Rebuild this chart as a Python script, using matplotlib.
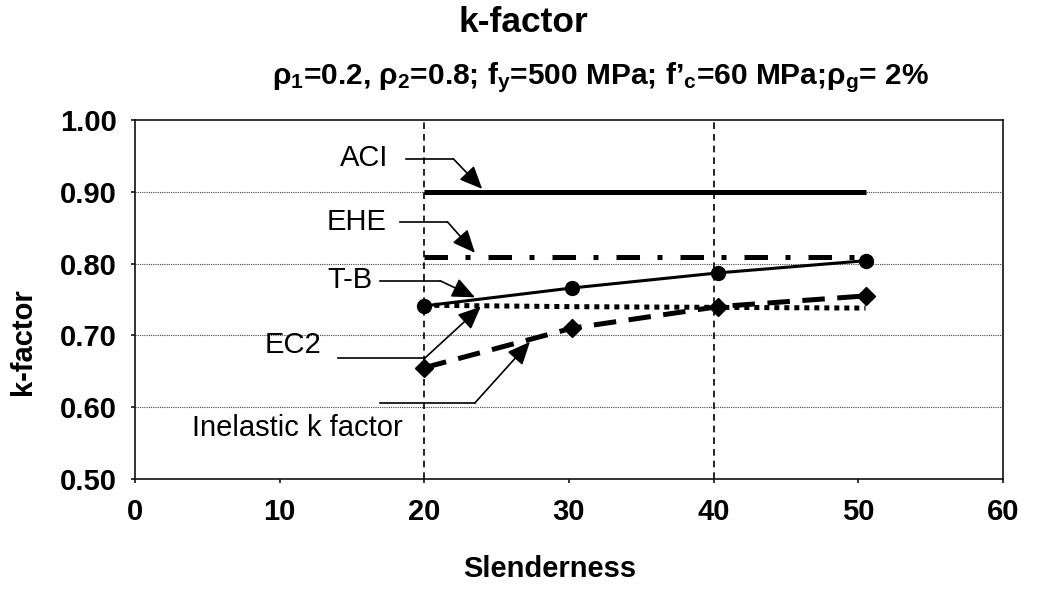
import matplotlib
matplotlib.use('Agg')
import matplotlib.pyplot as plt

plt.rcParams['font.family'] = ['Liberation Sans', 'DejaVu Sans']
plt.rcParams['mathtext.fontset'] = 'custom'
plt.rcParams['mathtext.rm'] = 'Liberation Sans:bold'
plt.rcParams['mathtext.it'] = 'Liberation Sans:bold'
plt.rcParams['mathtext.bf'] = 'Liberation Sans:bold'

# data
slenderness = [20, 30.2, 40.3, 50.5]
aci = [0.90, 0.90, 0.90, 0.90]
ehe = [0.809, 0.809, 0.809, 0.809]
tb = [0.741, 0.766, 0.787, 0.804]
ec2 = [0.655, 0.710, 0.740, 0.755]
inelastic = [0.742, 0.740, 0.739, 0.738]

x_ticks = [0, 10, 20, 30, 40, 50, 60]
y_ticks = [0.50, 0.60, 0.70, 0.80, 0.90, 1.00]
ref_lines = [20, 40]

fig = plt.figure(figsize=(10.37, 5.89), dpi=100)
ax = fig.add_axes([0.1302, 0.1868, 0.8370, 0.6095])

ax.set_xlim(0, 60)
ax.set_ylim(0.5, 1.0)

# horizontal grid
for y in y_ticks[1:-1]:
    ax.axhline(y, color='#444444', lw=0.8, ls=(0, (1, 1)), zorder=1)

# vertical dashed reference lines
for xv in ref_lines:
    ax.axvline(xv, color='k', lw=1.2, ls=(0, (4, 3)), zorder=2)

ax.plot(slenderness, aci, color='k', lw=3.6, solid_capstyle='butt', zorder=3)
ax.plot(slenderness, ehe, color='k', lw=3.6, ls=(0, (4.7, 3.5, 1, 3.6)), zorder=3)
ax.plot(slenderness, inelastic, color='k', lw=3.6, ls=(0, (1, 1)), zorder=3)
ax.plot(slenderness, tb, color='k', lw=2.2, marker='o', markersize=10, zorder=4)
ax.plot(slenderness, ec2, color='k', lw=3.6, ls=(0, (4.5, 2.5)), marker='D',
        markersize=9, zorder=4)

arrow = dict(arrowstyle='-|>,head_length=0.5,head_width=0.22', color='k', lw=1.2,
             mutation_scale=28, shrinkA=0, shrinkB=0)

# callout labels: text, line start, bend, arrow tip
callouts = [
    ('ACI', (17.5, 0.947), (18.75, 0.946), (22.0, 0.946), (24.0, 0.904)),
    ('EHE', (17.4, 0.858), (18.3, 0.858), (21.6, 0.858), (23.5, 0.815)),
    ('T-B', (16.4, 0.777), (16.95, 0.776), (21.1, 0.776), (23.5, 0.753)),
]
for txt, tpos, start, bend, tip in callouts:
    ax.text(tpos[0], tpos[1], txt, ha='right', va='center', fontsize=21)
    ax.plot([start[0], bend[0]], [start[1], bend[1]], color='k', lw=1.2)
    ax.annotate('', xy=tip, xytext=bend, arrowprops=arrow)

ax.text(10.9, 0.687, 'EC2', ha='center', va='center', fontsize=21)
ax.plot([14.05, 20.07], [0.669, 0.669], color='k', lw=1.2)
ax.annotate('', xy=(23.9, 0.740), xytext=(20.07, 0.669), arrowprops=arrow)

ax.text(11.2, 0.571, 'Inelastic k factor', ha='center', va='center', fontsize=21)
ax.plot([16.95, 23.5], [0.606, 0.606], color='k', lw=1.2)
ax.annotate('', xy=(27.3, 0.691), xytext=(23.5, 0.606), arrowprops=arrow)

ax.set_xticks(x_ticks)
ax.set_yticks(y_ticks)
ax.set_xticklabels([str(v) for v in x_ticks], fontsize=21, fontweight='bold')
ax.set_yticklabels(['%.2f' % v for v in y_ticks], fontsize=21, fontweight='bold')
ax.tick_params(axis='x', direction='out', length=3, width=1.1, pad=11)
ax.tick_params(axis='y', direction='out', length=3, width=1.1, pad=10)
for s in ax.spines.values():
    s.set_linewidth(1.2)
    s.set_color('#111111')

fig.text(0.530, 0.034, 'Slenderness', ha='center', va='center',
         fontsize=21, fontweight='bold')
fig.text(0.022, 1 - 342 / 589, 'k-factor', ha='center', va='center',
         rotation=90, fontsize=21, fontweight='bold')

fig.text(523 / 1037, 1 - 32 / 589, 'k-factor', ha='center', va='baseline',
         fontsize=25.5, fontweight='bold')
fig.text(600 / 1037, 1 - 84 / 589,
         'ρ$_1$=0.2, ρ$_2$=0.8; f$_y$=500 MPa; f’$_c$=60 MPa;ρ$_g$= 2%',
         ha='center', va='baseline', fontsize=21.5, fontweight='bold')

fig.savefig('out.png', dpi=100)
